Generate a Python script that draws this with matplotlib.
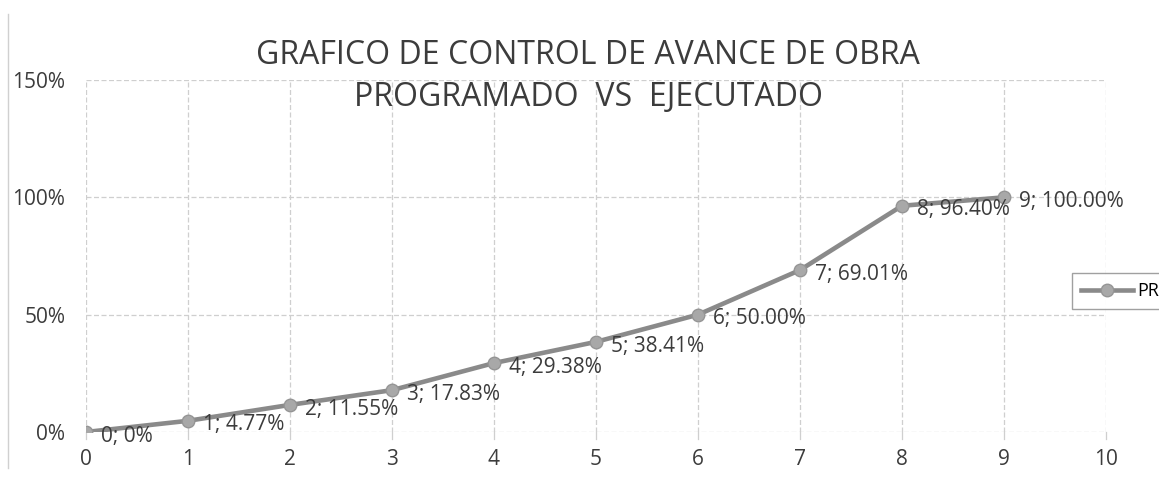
import matplotlib
matplotlib.use('Agg')
import matplotlib.pyplot as plt
from matplotlib.lines import Line2D

plt.rcParams['font.family'] = ['Open Sans', 'DejaVu Sans']

# data
periodo = [0, 1, 2, 3, 4, 5, 6, 7, 8, 9]
programado = [0.0, 4.77, 11.55, 17.83, 29.38, 38.41, 50.00, 69.01, 96.40, 100.00]
etiquetas = ['0; 0%', '1; 4.77%', '2; 11.55%', '3; 17.83%', '4; 29.38%',
             '5; 38.41%', '6; 50.00%', '7; 69.01%', '8; 96.40%', '9; 100.00%']
x_ticks = [0, 1, 2, 3, 4, 5, 6, 7, 8, 9, 10]
y_ticks = [0, 50, 100, 150]
y_ticklabels = ['0%', '50%', '100%', '150%']

LINE = '#8a8a8a'
GRID = '#cfcfcf'
TEXT = '#3c3c3c'

W, H = 1159, 478
fig = plt.figure(figsize=(W / 100, H / 100), dpi=100)
ax = fig.add_axes([86 / W, 1 - 432 / H, (1106 - 86) / W, (432 - 80) / H])

ax.set_xlim(0, 10)
ax.set_ylim(0, 150)
for s in ax.spines.values():
    s.set_visible(False)

ax.set_xticks(x_ticks)
ax.set_yticks(y_ticks)
ax.set_yticklabels(y_ticklabels)
ax.tick_params(axis='both', length=0, labelsize=15, labelcolor=TEXT)
ax.tick_params(axis='x', pad=12)
ax.tick_params(axis='y', pad=15)
ax.grid(True, color=GRID, linestyle=(0, (4, 2)), linewidth=0.9)
ax.set_axisbelow(True)

# small tick marks below the x axis
for xv in x_ticks:
    ax.plot([xv, xv], [0, -3], color=GRID, lw=0.9, clip_on=False)

ax.plot(periodo, programado, color=LINE, lw=3.3, marker='o', markersize=9,
        markerfacecolor='#a8a8a8', markeredgecolor='#959595', markeredgewidth=1,
        solid_capstyle='round', zorder=3)

for xv, yv, t in zip(periodo, programado, etiquetas):
    ax.annotate(t, (xv, yv), xytext=(11, -3), textcoords='offset points',
                ha='left', va='center', fontsize=15, color=TEXT, zorder=4)

fig.text(588 / W, 1 - 55 / H, 'GRAFICO DE CONTROL DE AVANCE DE OBRA',
         ha='center', va='center', fontsize=23, color=TEXT)
fig.text(588 / W, 1 - 97 / H, 'PROGRAMADO  VS  EJECUTADO',
         ha='center', va='center', fontsize=23, color=TEXT)

# chart border on the left
fig.add_artist(Line2D([8 / W, 8 / W], [0.02, 0.97], color='#d0d0d0', lw=1))

# legend, cut by the right edge like the original
h = Line2D([], [], color=LINE, lw=3.3, marker='o', markersize=9,
           markerfacecolor='#a8a8a8', markeredgecolor='#959595')
fig.legend([h], ['PROGRAMADO'], loc='center left',
           bbox_to_anchor=(1063 / W, 1 - 291 / H), fontsize=13,
           frameon=True, edgecolor='#888888', fancybox=False,
           handlelength=2.9, borderpad=0.5, handletextpad=0.2)

fig.savefig('out.png', dpi=100)
